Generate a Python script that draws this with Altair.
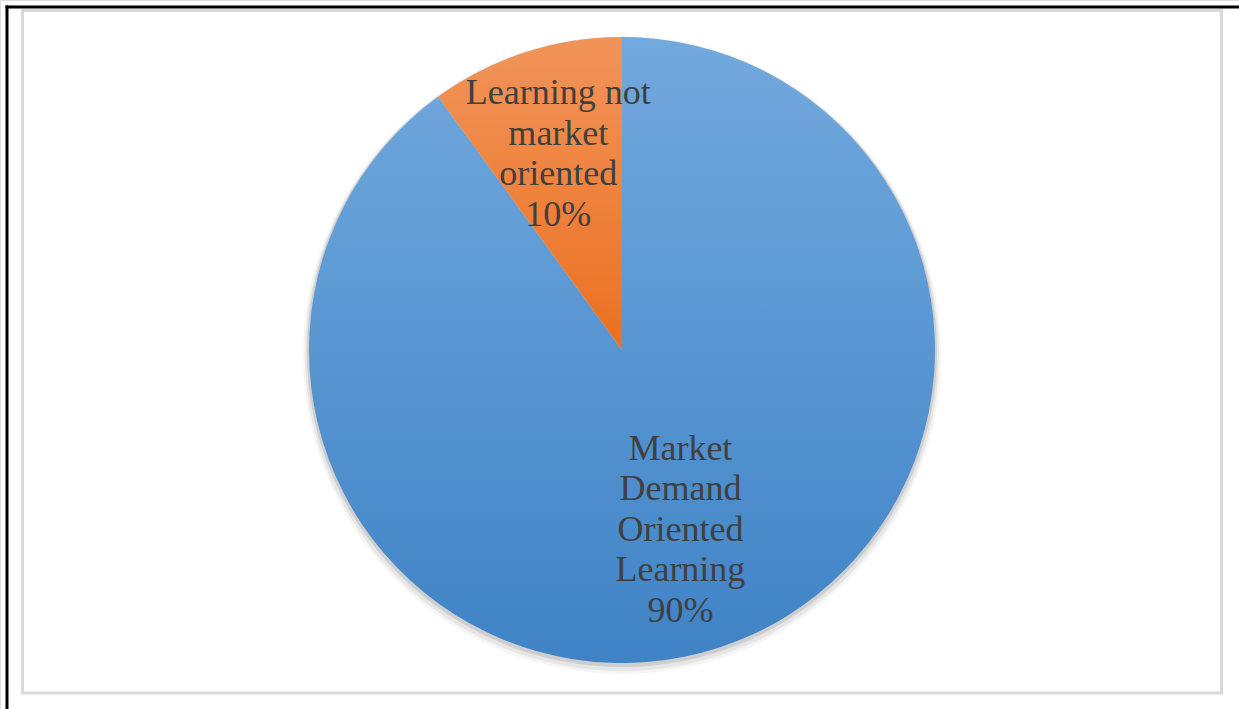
import altair as alt
import pandas as pd

# ---- data ----
categories = ["Market Demand Oriented Learning", "Learning not market oriented"]
label_lines = [["Market", "Demand", "Oriented", "Learning"], ["Learning not", "market", "oriented"]]
values = [90, 10]
order = [0, 1]

df = pd.DataFrame({
    "category": categories,
    "value": values,
    "order": order,
    "label": ["\n".join(lines + [f"{v}%"]) for lines, v in zip(label_lines, values)],
})

W, H = 1239, 709
CX, CY = 622, 350
R = 313
LH = 40.5

theta_scale = alt.Scale(domain=[0, sum(values)])

base = alt.Chart(df).transform_stack(
    stack="value", as_=["v0", "v1"], groupby=[], sort=[alt.SortField("order", order="ascending")]
).transform_calculate(mid="(datum.v0 + datum.v1) / 2")

blue_grad = alt.Gradient(
    gradient="linear",
    stops=[alt.GradientStop(color="#72a9de", offset=0), alt.GradientStop(color="#3f83c6", offset=1)],
    x1=0, x2=0, y1=0, y2=1,
)
orange_grad = alt.Gradient(
    gradient="linear",
    stops=[alt.GradientStop(color="#f1945a", offset=0), alt.GradientStop(color="#ec7020", offset=1)],
    x1=0, x2=0, y1=0, y2=1,
)

dummy = alt.Data(values=[{}])

# shadow halo
shadows = []
for dr, dy, op in [(6, 5, 0.04), (4, 4, 0.06), (2, 2, 0.10)]:
    shadows.append(
        alt.Chart(dummy).mark_arc(radius=R + dr, theta=0, theta2=6.2832, color="#000000", opacity=op)
        .encode(x=alt.value(CX), y=alt.value(CY + dy))
    )

def slice_layer(cat, grad):
    return base.transform_filter(alt.datum.category == cat).mark_arc(radius=R, color=grad).encode(
        theta=alt.Theta("v0:Q", scale=theta_scale),
        theta2="v1:Q",
        x=alt.value(CX),
        y=alt.value(CY),
    )

def text_layer(cat, rad, nlines):
    return base.transform_filter(alt.datum.category == cat).mark_text(
        radius=rad, font="Liberation Serif", fontSize=36, lineHeight=LH,
        lineBreak="\n", align="center", baseline="middle", color="#404040",
        dy=-(nlines - 1) / 2 * LH,
    ).encode(
        theta=alt.Theta("mid:Q", scale=theta_scale),
        text="label:N",
        x=alt.value(CX),
        y=alt.value(CY),
    )

frame = alt.Chart(dummy).mark_rect(filled=False, stroke="#d9d9d9", strokeWidth=3).encode(
    x=alt.value(22.5), x2=alt.value(1221.5), y=alt.value(10.5), y2=alt.value(693)
)
left_rule = alt.Chart(dummy).mark_rule(color="#000000", strokeWidth=3).encode(
    x=alt.value(7), y=alt.value(5.5), y2=alt.value(H)
)
top_rule = alt.Chart(dummy).mark_rule(color="#000000", strokeWidth=3).encode(
    y=alt.value(7), x=alt.value(5.5), x2=alt.value(W)
)

chart = alt.layer(
    frame,
    *shadows,
    slice_layer(categories[0], blue_grad),
    slice_layer(categories[1], orange_grad),
    text_layer(categories[0], 189, len(label_lines[0]) + 1),
    text_layer(categories[1], 206, len(label_lines[1]) + 1),
    left_rule,
    top_rule,
).properties(
    width=W, height=H, autosize=alt.AutoSizeParams(type="none"), padding=0
).configure_view(stroke=None).configure(background="white")

chart.save("out.html", embed_options={"renderer": "svg", "actions": False})
